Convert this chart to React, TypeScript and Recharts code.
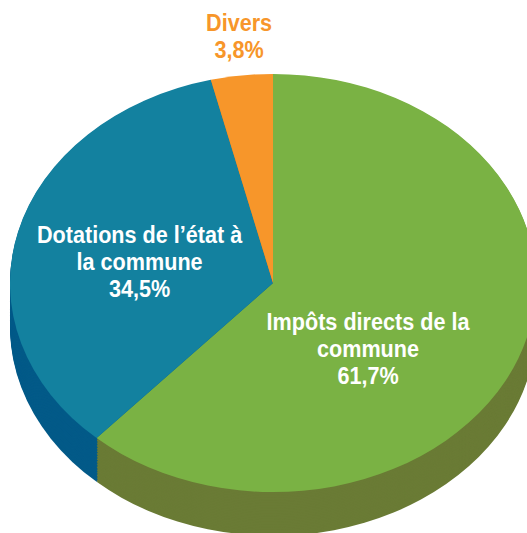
import { Cell, Pie, PieChart } from "recharts";

const categories = [
  "Impôts directs de la commune",
  "Dotations de l’état à la commune",
  "Divers",
];
const shares = [61.7, 34.5, 3.8];
const labelLines = [
  ["Impôts directs de la", "commune", "61,7%"],
  ["Dotations de l’état à", "la commune", "34,5%"],
  ["Divers", "3,8%"],
];
const topColors = ["#7ab244", "#13819f", "#f7962a"];
const sideColors = ["#6a7b35", "#035a88", "#c8741a"];
const labelColors = ["#ffffff", "#ffffff", "#f7962a"];

// label placement in the un-squashed pie (radius, angle nudge from the slice middle)
const labelRadius = [126, 136, 312];
const labelNudge = [-20, 3, -0.6];

const data = categories.map((name, i) => ({ name, value: shares[i] }));

const W = 527;
const SQUASH = 0.795; // ry / rx of the tilted pie
const H = 680;
const CX = 273;
const CY = 356;
const R = 263;
const DEPTH = 55;
const RADIAN = Math.PI / 180;

const depthSteps: number[] = [];
for (let k = DEPTH; k > 0; k -= 2) depthSteps.push(k);

const renderLabel = (props: any) => {
  const { cx, cy, midAngle, index } = props;
  const a = (midAngle + labelNudge[index]) * RADIAN;
  const r = labelRadius[index];
  const x = cx + r * Math.cos(-a);
  const y = cy + r * Math.sin(-a);
  const lines = labelLines[index];
  const start = -((lines.length - 1) / 2) * 27;
  return (
    <text
      transform={`translate(${x}, ${y}) scale(0.9, ${1 / SQUASH})`}
      textAnchor="middle"
      dominantBaseline="central"
      fill={labelColors[index]}
      fontFamily="'Liberation Sans', Arial, sans-serif"
      fontWeight="bold"
      fontSize={24}
    >
      {lines.map((line, i) => (
        <tspan key={i} x={0} y={start + i * 27}>
          {line}
        </tspan>
      ))}
    </text>
  );
};

const App = () => {
  return (
    <div
      style={{
        position: "absolute",
        left: 0,
        top: 0,
        width: W,
        height: H,
        transform: `scaleY(${SQUASH})`,
        transformOrigin: "0 0",
      }}
    >
      <PieChart width={W} height={H} margin={{ top: 0, right: 0, bottom: 0, left: 0 }}>
        {/* side of the cake: the same pie stacked downwards, darker */}
        {depthSteps.map((k) => (
          <Pie
            key={k}
            data={data}
            dataKey="value"
            nameKey="name"
            cx={CX}
            cy={CY + k}
            outerRadius={R}
            startAngle={90}
            endAngle={-270}
            stroke="none"
            isAnimationActive={false}
          >
            {data.map((d, i) => (
              <Cell key={d.name} fill={sideColors[i]} />
            ))}
          </Pie>
        ))}

        {/* top face */}
        <Pie
          data={data}
          dataKey="value"
          nameKey="name"
          cx={CX}
          cy={CY}
          outerRadius={R}
          startAngle={90}
          endAngle={-270}
          stroke="none"
          label={renderLabel}
          labelLine={false}
          isAnimationActive={false}
        >
          {data.map((d, i) => (
            <Cell key={d.name} fill={topColors[i]} />
          ))}
        </Pie>
      </PieChart>
    </div>
  );
};

export default App;
